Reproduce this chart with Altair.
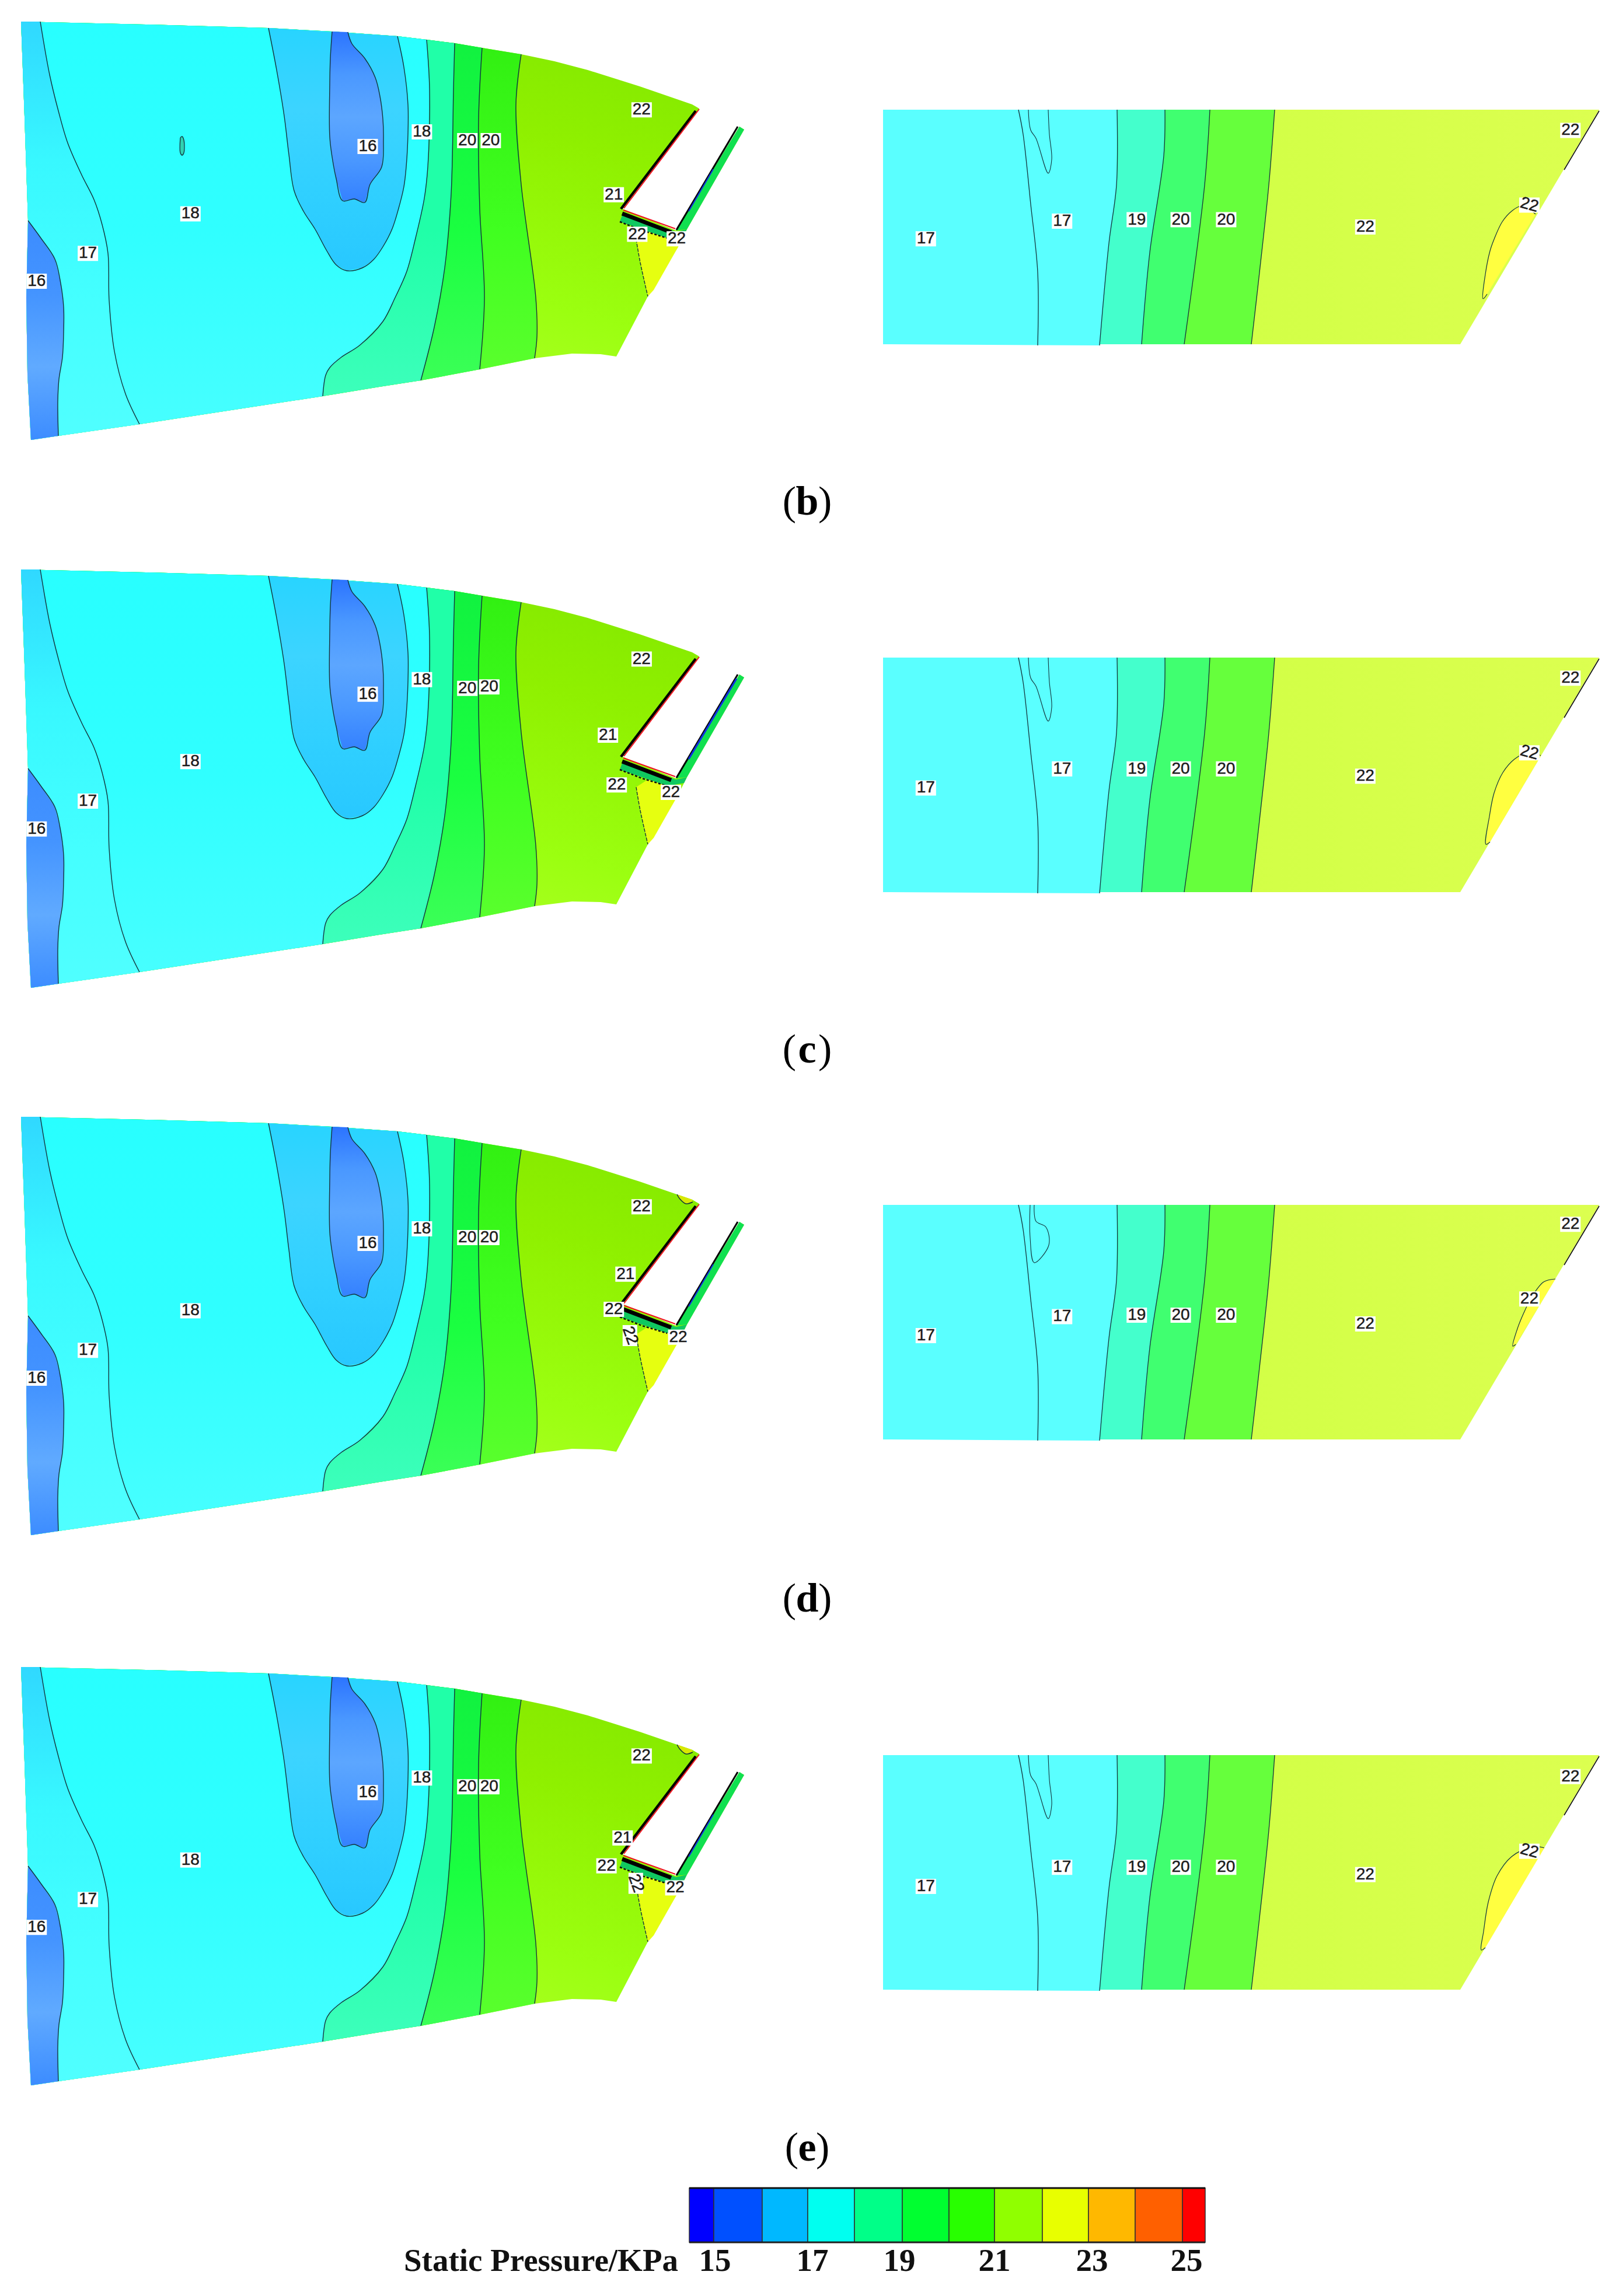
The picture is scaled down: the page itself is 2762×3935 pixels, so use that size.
import altair as alt
import pandas as pd

# ---- contour geometry of the first panel (image pixels) ----
TOP = [(36,37),(250,42),(460,48),(569,54),(681,62),(731,68),(779,74),(826,82),(893,93),(950,105),(1007,120),(1096,148),(1186,179),(1198,186)]
NOTCH = [(1067,358),(1158,395),(1267,217),(1275,222),(1177,393),(1162,423),(1110,508)]
BOTTOM = [(1056,611),(1029,607),(980,606),(916,614),(822,633),(721,652),(650,663),(553,679),(239,727),(100,747),(53,754)]
LEFT = [(47,640),(45,510),(48,378),(42,200)]

C_16L = [(48,378),(70,408),(94,444),(103,480),(109,526),(109,570),(107,612),(101,650),(99,689),(100,747)]
C_17 = [(69,37),(85,128),(100,190),(116,245),(140,300),(161,342),(175,385),(185,434),(187,515),(196,602),(215,675),(239,727)]
C_HALO = [(460,48),(474,120),(487,199),(495,265),(504,327),(520,362),(540,393),(560,430),(576,454),(594,464),(621,459),(640,445),(656,423),(672,392),(683,357),(692,320),(696,286),(699,230),(699,179),(692,115),(681,62)]
C_BLOB = [(569,54),(566,100),(565,143),(565,235),(570,275),(576,306),(587,344),(607,341),(625,347),(634,316),(654,286),(657,240),(656,204),(651,165),(643,133),(625,100),(603,75),(596,55)]
C_19 = [(731,68),(736,153),(733,286),(727,340),(712,408),(697,465),(677,510),(656,551),(616,592),(585,612),(565,630),(558,643),(553,679)]
C_20A = [(779,74),(777,153),(773,332),(762,459),(744,561),(721,652)]
C_20B = [(826,82),(820,204),(822,357),(830,510),(822,633)]
C_22 = [(893,93),(884,179),(893,316),(918,510),(920,577),(916,614)]
YELLOW_TRI = [(1090,410),(1097,450),(1110,508),(1120,497),(1162,423),(1140,403),(1110,397)]
TIP_PATCH = [(1160,170),(1165,178),(1175,186),(1187,183),(1186,179)]
SMALL_OVAL = [(309,236),(312,234),(315,240),(315,262),(312,266),(309,262)]

R_OUT = [(1513,188),(2740,188),(2502,590),(1513,590)]
R_TOP = [(1513,188),(2740,188)]
R_BOT = [(2502,590),(1513,590)]
R_1 = [(1745,188),(1753,230),(1766,350),(1778,467),(1778,592)]
R_2 = [(1914,188),(1913,317),(1900,417),(1884,592)]
R_3 = [(1996,188),(1994,267),(1970,433),(1956,590)]
R_4 = [(2073,188),(2064,317),(2029,590)]
R_5 = [(2184,188),(2174,317),(2158,467),(2144,590)]
R_LOBE = [(1762,188),(1766,223),(1775,237),(1796,297),(1802,273),(1798,230),(1796,188)]
R_LOBE_D = [(1765,188),(1765,244),(1772,287),(1797,257),(1792,226),(1775,216),(1772,188)]
R_BLOB = {
    "b": [(2631,367),(2607,353),(2590,362),(2574,380),(2560,410),(2553,430),(2545,470),(2541,512),(2548,504)],
    "c": [(2640,356),(2620,350),(2595,362),(2575,385),(2560,420),(2552,460),(2546,508),(2553,504)],
    "d": [(2665,315),(2645,320),(2625,345),(2610,375),(2600,400),(2592,430),(2597,427)],
    "e": [(2646,347),(2625,345),(2590,362),(2565,395),(2550,440),(2542,490),(2538,522),(2545,518)],
}

PANELS = ["b", "c", "d", "e"]
DY = {"b": 0, "c": 939, "d": 1877, "e": 2820}
CAPTION_Y = {"b": 861, "c": 1800, "d": 2741, "e": 3682}

# contour labels: text, x, y, angle (image pixels, absolute)
SCALE = 2.51
LABELS_LEFT = {
    "b": [("16",251,100,0),("18",130,146,0),("17",60,173,0),("16",25,192,0),("18",288,90,0),("20",319,96,0),("20",335,96,0),("22",438,75,0),("21",419,133,0),("22",435,160,0),("22",462,163,0)],
    "c": [("16",251,474,0),("18",130,520,0),("17",60,547,0),("16",25,566,0),("18",288,464,0),("20",319,470,0),("20",334,469,0),("22",438,450,0),("21",415,502,0),("22",421,536,0),("22",458,541,0)],
    "d": [("16",251,849,0),("18",130,895,0),("17",60,922,0),("16",25,941,0),("18",288,839,0),("20",319,845,0),("20",334,845,0),("22",438,824,0),("21",427,870,0),("22",419,894,0),("22",430,912,70),("22",463,913,0)],
    "e": [("16",251,1224,0),("18",130,1270,0),("17",60,1297,0),("16",25,1316,0),("18",288,1214,0),("20",319,1220,0),("20",334,1220,0),("22",438,1199,0),("21",425,1255,0),("22",414,1274,0),("22",434,1286,70),("22",461,1289,0)],
}
LABELS_RIGHT = {
    "b": [("17",632,163,0),("17",725,151,0),("19",776,150,0),("20",806,150,0),("20",837,150,0),("22",932,155,0),("22",1072,89,0),("22",1044,140,15)],
    "c": [("17",632,538,0),("17",725,525,0),("19",776,525,0),("20",806,525,0),("20",837,525,0),("22",932,530,0),("22",1072,463,0),("22",1044,514,15)],
    "d": [("17",632,912,0),("17",725,899,0),("19",776,898,0),("20",806,898,0),("20",837,898,0),("22",932,904,0),("22",1072,836,0),("22",1044,887,0)],
    "e": [("17",632,1288,0),("17",725,1275,0),("19",776,1275,0),("20",806,1275,0),("20",837,1275,0),("22",932,1280,0),("22",1072,1213,0),("22",1044,1264,15)],
}

# colour bar
BAR_EDGES = [1181,1223,1306,1384,1464,1546,1626,1704,1786,1865,1945,2026,2065]
BAR_COLORS = ["#0000ff","#0050ff","#00b8ff","#00fff0","#00ff88","#00ff30","#28ff00","#90ff00","#e8ff00","#ffb800","#ff6000","#ff0000"]
BAR_TICKS = ["15","17","19","21","23","25"]
BAR_TICK_X = [1225,1392,1541,1704,1871,2033]
BAR_TOP, BAR_BOTTOM = 3750, 3843

XS = alt.Scale(domain=[8, 2754])
YS = alt.Scale(domain=[8, 3927], reverse=True)
X = alt.X("x:Q", scale=XS, axis=None)
Y = alt.Y("y:Q", scale=YS, axis=None)
X2 = alt.X2("x2:Q")
Y2 = alt.Y2("y2:Q")


def grad(stops, x1=0, y1=0, x2=0, y2=1):
    n = len(stops) - 1
    return alt.LinearGradient(
        gradient="linear", x1=x1, y1=y1, x2=x2, y2=y2,
        stops=[alt.GradientStop(offset=i / n, color=c) for i, c in enumerate(stops)],
    )


def frame(pts, dy):
    return pd.DataFrame([{"x": p[0], "y": p[1] + dy, "i": i} for i, p in enumerate(pts)])


def fill(pts, dy, color):
    return alt.Chart(frame(pts, dy)).mark_line(
        interpolate="linear-closed", fill=color, strokeOpacity=0
    ).encode(x=X, y=Y, order="i:Q")


def line(pts, dy, color="#14343c", width=1.4, dash=None, interp="catmull-rom"):
    kw = {"strokeDash": dash} if dash else {}
    return alt.Chart(frame(pts, dy)).mark_line(
        stroke=color, strokeWidth=width, interpolate=interp, **kw
    ).encode(x=X, y=Y, order="i:Q")


def left_of(boundary):
    top = [p for p in TOP if p[0] < boundary[0][0]]
    bot = [p for p in BOTTOM if p[0] < boundary[-1][0]]
    return top + boundary + bot + LEFT


def labels(items):
    rows = []
    for t, dx, dy, a in items:
        x, y = dx * SCALE, dy * SCALE
        w, h = (25, 36) if a >= 45 else (35, 26)
        rows.append({"t": t, "x": x, "y": y, "a": a, "x0": x - w / 2, "x2": x + w / 2, "y0": y - h / 2, "y2": y + h / 2})
    df = pd.DataFrame(rows)
    box = alt.Chart(df).mark_rect(color="white").encode(
        x=alt.X("x0:Q", scale=XS, axis=None), x2=X2,
        y=alt.Y("y0:Q", scale=YS, axis=None), y2=Y2)
    out = [box]
    for a in sorted(df.a.unique()):
        out.append(alt.Chart(df[df.a == a]).mark_text(
            font="Liberation Sans", fontSize=28, color="#1c1c1c", angle=int(a),
            align="center", baseline="middle", stroke="#1c1c1c", strokeWidth=0.5,
        ).encode(x=X, y=Y, text="t:N"))
    return out


layers = []
for p in PANELS:
    d = DY[p]
    # left blade passage
    layers.append(fill(TOP + NOTCH + BOTTOM + LEFT, d, grad(["#7fe600", "#8ff000", "#9bff10", "#b4ff30"], 1, 0, 0.55, 1)))
    layers.append(fill(YELLOW_TRI, d, "#e6ff10"))
    if p in ("d", "e"):
        layers.append(fill(TIP_PATCH, d, "#d8e800"))
        layers.append(line(TIP_PATCH[:4], d, width=1.5))
    layers.append(fill(left_of(C_22), d, grad(["#30ee10", "#40ff20", "#66ff33"])))
    layers.append(fill(left_of(C_20B), d, grad(["#10f040", "#1aff40", "#48ff60"])))
    layers.append(fill(left_of(C_20A), d, grad(["#20ffa8", "#20ffa8", "#44ffc0"])))
    layers.append(fill(left_of(C_19), d, grad(["#28ffff", "#30ffff", "#48ffff"])))
    layers.append(fill(C_HALO, d, grad(["#28d4ff", "#3cd4ff", "#30d0ff", "#28c8ff"])))
    layers.append(fill(C_BLOB, d, grad(["#2c74ff", "#4a98ff", "#5ca6ff", "#4a98ff", "#3480ff"])))
    layers.append(fill(left_of(C_17), d, grad(["#30d8ff", "#38f8ff", "#44ffff", "#50ffff"])))
    layers.append(fill(C_16L + [(53,754),(47,640),(45,510)], d, grad(["#3c8cff", "#4494ff", "#60aaff", "#3c8cff"])))
    for c in (C_16L, C_17, C_HALO, C_BLOB, C_19, C_20A, C_20B, C_22):
        layers.append(line(c, d))
    layers.append(line(YELLOW_TRI[:3], d, dash=[6, 2]))
    if p == "b":
        layers.append(fill(SMALL_OVAL, d, "#30d0b0"))
        layers.append(line(SMALL_OVAL + [SMALL_OVAL[0]], d, width=1.3))
    # blade wall and wake bands
    layers.append(fill([(1062,380),(1067,366),(1158,397),(1177,393),(1172,403),(1143,408)], d, "#10c860"))
    layers.append(line([(1062,380),(1100,395),(1143,408)], d, color="#101010", width=2.5, dash=[4, 3], interp="linear"))
    layers.append(fill([(1267,217),(1275,222),(1177,393),(1158,395)], d, "#10e050"))
    layers.append(line([(1192,190),(1064,358)], d, color="#000000", width=4.5, interp="linear"))
    layers.append(line([(1198,187),(1069,357)], d, color="#f01020", width=2, interp="linear"))
    layers.append(line([(1066,366),(1150,398)], d, color="#000000", width=7, interp="linear"))
    layers.append(line([(1068,360),(1157,392)], d, color="#f01020", width=2, interp="linear"))
    layers.append(line([(1264,217),(1159,394)], d, color="#000000", width=3, interp="linear"))
    if p == "c":
        layers.append(line([(1262,224),(1180,362)], d, color="#1030e0", width=3, interp="linear"))
    else:
        layers.append(line([(1222,290),(1180,362)], d, color="#1030e0", width=2, interp="linear"))
    # right passage
    layers.append(fill(R_OUT, d, grad(["#c8ff3c", "#dcff50"], 0, 0, 1, 0)))
    for bound, col in ((R_5, "#66ff3c"), (R_4, "#40ff70"), (R_3, "#44ffcc"), (R_2, "#5affff")):
        layers.append(fill([R_TOP[0], bound[0]] + bound + [R_BOT[1]], d, col))
    layers.append(fill(R_BLOB[p], d, "#ffff40"))
    for c in (R_1, R_2, R_3, R_4, R_5):
        layers.append(line(c, d, width=1.3))
    layers.append(line(R_LOBE_D if p == "d" else R_LOBE, d, width=1.1))
    layers.append(line(R_BLOB[p], d, width=1.2))
    layers.append(line([(2740,190),(2680,291)], d, color="#101010", width=1.6, interp="linear"))
    layers += labels(LABELS_LEFT[p]) + labels(LABELS_RIGHT[p])
    # caption
    half = 15 if p == "e" else 19
    cap = pd.DataFrame({"x": [1383], "y": [CAPTION_Y[p]], "t": [p], "l": ["("], "r": [")"],
                        "xl": [1383 - half], "xr": [1383 + half]})
    common = dict(font="Liberation Serif", fontSize=70, baseline="middle", color="black")
    layers.append(alt.Chart(cap).mark_text(align="center", fontWeight="bold", **common).encode(x=X, y=Y, text="t:N"))
    layers.append(alt.Chart(cap).mark_text(align="right", **common).encode(x=alt.X("xl:Q", scale=XS, axis=None), y=Y, text="l:N"))
    layers.append(alt.Chart(cap).mark_text(align="left", **common).encode(x=alt.X("xr:Q", scale=XS, axis=None), y=Y, text="r:N"))

# colour bar
bar = pd.DataFrame({
    "x": BAR_EDGES[:-1], "x2": BAR_EDGES[1:],
    "y": [BAR_TOP] * len(BAR_COLORS), "y2": [BAR_BOTTOM] * len(BAR_COLORS),
    "c": BAR_COLORS,
})
layers.append(alt.Chart(bar).mark_rect(stroke="#303030", strokeWidth=1.5).encode(
    x=X, x2=X2, y=Y, y2=Y2, fill=alt.Fill("c:N", scale=None)))
layers.append(line([(BAR_EDGES[0], BAR_TOP), (BAR_EDGES[-1], BAR_TOP)], 0, color="#101010", width=3, interp="linear"))
layers.append(line([(BAR_EDGES[0], BAR_BOTTOM), (BAR_EDGES[-1], BAR_BOTTOM)], 0, color="#202020", width=3, interp="linear"))
ticks = pd.DataFrame({"x": BAR_TICK_X, "y": [3875] * len(BAR_TICKS), "t": BAR_TICKS})
serif = dict(font="Liberation Serif", fontSize=55, fontWeight="bold", baseline="middle", color="#111111")
layers.append(alt.Chart(ticks).mark_text(align="center", **serif).encode(x=X, y=Y, text="t:N"))
title = pd.DataFrame({"x": [1162], "y": [3875], "t": ["Static Pressure/KPa"]})
layers.append(alt.Chart(title).mark_text(align="right", **serif).encode(x=X, y=Y, text="t:N"))

chart = alt.layer(*layers).properties(
    width=2746, height=3919, padding=0, autosize=alt.AutoSizeParams(type="none")
).configure_view(stroke=None)

chart.save("out.html", embed_options={"renderer": "svg", "actions": False})
